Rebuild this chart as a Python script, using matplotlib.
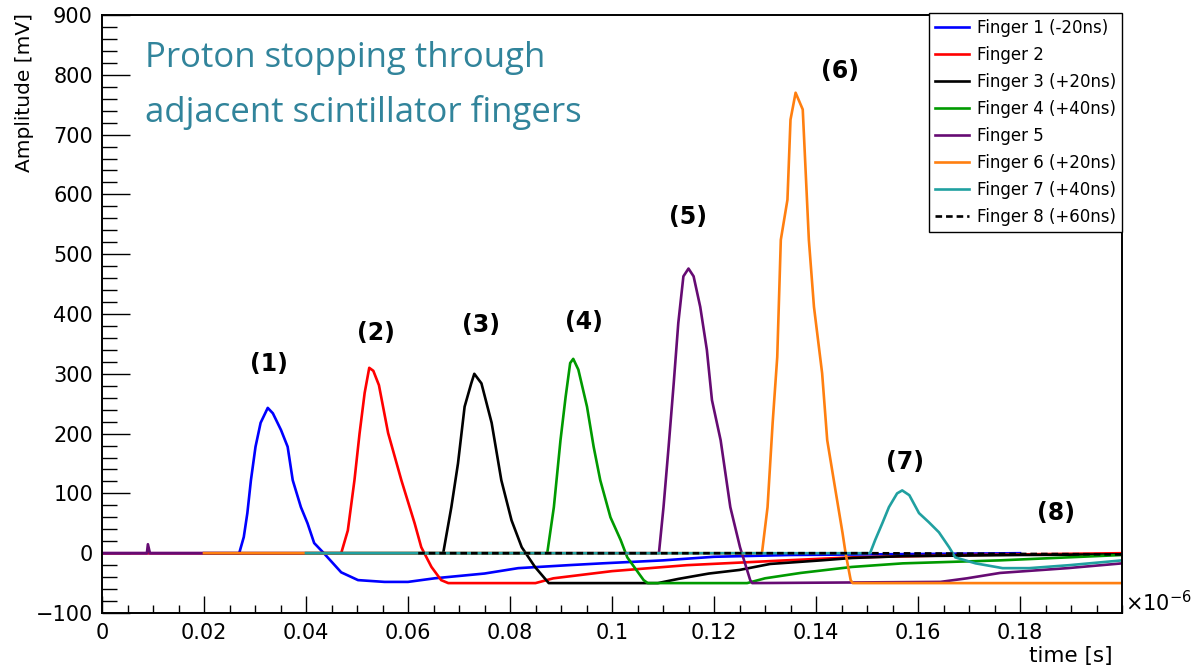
"""
Proton stopping through adjacent scintillator fingers - waveform overlay
"""
import matplotlib
matplotlib.use('Agg')
import matplotlib.pyplot as plt
from matplotlib.ticker import MultipleLocator, FixedLocator
import numpy as np

# ---- data (time in ns, amplitude in mV) ----
t_f1 = [0, 26.9, 27.8, 28.5, 29.2, 30.1, 31.1, 32.5, 33.5, 35.1, 36.4, 37.4, 39.0, 40.3,
        41.6, 43.5, 46.9, 50.2, 55.4, 60, 65.2, 75, 81.6, 91.5, 98, 110, 120, 135, 150, 180]
a_f1 = [0, 0, 27, 67, 122, 178, 218, 243, 234, 206, 178, 122, 77, 50,
        17, 0, -32, -45, -48, -48, -42, -34, -25, -20, -17, -12, -6, -3, -2, 0]

t_f2 = [0, 46.9, 48.2, 49.5, 50.5, 51.5, 52.4, 53.2, 54.3, 56.1, 58.7, 61.3, 62.6, 64.6,
        66.5, 67.9, 85, 88.5, 100, 114.7, 134, 147, 170, 200]
a_f2 = [0, 0, 38, 122, 200, 268, 310, 305, 281, 201, 122, 50, 10, -23,
        -45, -50, -50, -42, -30, -20, -12, -7, -3, 0]

t_f3 = [20, 66.9, 68.5, 69.8, 71.1, 72.4, 73.0, 74.4, 76.4, 78.3, 80.3, 82.3, 84.9, 87.6,
        109, 113, 119, 125, 131, 141, 147, 157, 180, 200]
a_f3 = [0, 0, 77, 150, 245, 284, 300, 284, 218, 122, 55, 10, -23, -50,
        -50, -43, -34, -28, -18, -12, -8, -5, -3, -2]

t_f4 = [40, 87.3, 88.6, 89.9, 90.9, 91.8, 92.4, 93.4, 95.1, 96.4, 97.7, 99.7, 101.7, 103,
        106.2, 107, 126.5, 130, 137, 147, 157, 176, 200]
a_f4 = [0, 0, 77, 189, 261, 318, 325, 307, 245, 178, 122, 60, 22, -7,
        -45, -50, -50, -42, -33, -23, -17, -12, -3]

t_f5 = [0, 8.8, 9.0, 9.4, 109.2, 110.1, 111.1, 112.1, 113.0, 114.0, 115.0, 116.0, 117.3,
        118.6, 119.6, 121.3, 123.2, 125.1, 127.1, 127.5, 164.4, 169.6, 176.1, 189.3, 200]
a_f5 = [0, 0, 15, 0, 0, 77, 178, 284, 385, 463, 476, 463, 412,
        340, 256, 189, 77, 10, -45, -50, -48, -42, -33, -25, -17]

t_f6 = [20, 129.4, 130.5, 131.5, 132.4, 133.1, 134.4, 135.0, 136.0, 137.4, 138.6, 139.6,
        141.2, 142.2, 143.8, 145.2, 145.8, 146.8, 147.2, 200]
a_f6 = [0, 0, 77, 218, 328, 524, 591, 725, 770, 742, 524, 412,
        301, 189, 106, 34, 0, -45, -50, -50]

t_f7 = [40, 150.6, 151.6, 153, 154.3, 155.9, 156.9, 158.3, 160.2, 162.1, 164.1, 166.1,
        167.3, 171.3, 176.6, 181.8, 189.7, 200]
a_f7 = [0, 0, 22, 50, 77, 100, 105, 97, 67, 52, 35, 10,
        -7, -17, -25, -25, -20, -12]

t_f8 = [62, 150, 200]
a_f8 = [0, 0, -2]

labels = ['Finger 1 (-20ns)', 'Finger 2', 'Finger 3 (+20ns)', 'Finger 4 (+40ns)',
          'Finger 5', 'Finger 6 (+20ns)', 'Finger 7 (+40ns)', 'Finger 8 (+60ns)']
colors = ['#0000ff', '#ff0000', '#000000', '#009a00', '#660b73', '#ff7f10', '#20a0a0', '#000000']

peak_tags = ['(1)', '(2)', '(3)', '(4)', '(5)', '(6)', '(7)', '(8)']
tag_t = [32.7, 53.8, 74.4, 94.5, 114.9, 144.8, 157.4, 187.1]
tag_a = [317, 369, 382, 387, 563, 807, 152, 68]

traces = [(t_f1, a_f1), (t_f2, a_f2), (t_f3, a_f3), (t_f4, a_f4),
          (t_f5, a_f5), (t_f6, a_f6), (t_f7, a_f7), (t_f8, a_f8)]

plt.rcParams['font.family'] = ['DejaVu Sans']

fig = plt.figure(figsize=(11.91, 6.70), dpi=100)
ax = fig.add_axes([102 / 1191, 1 - 613 / 670, 1020 / 1191, 598 / 670])

for i, (t, a) in enumerate(traces):
    x = np.array(t) * 1e-3   # ns -> units of 1e-6 s
    ls = (0, (2.5, 1.5)) if i == 7 else '-'
    ax.plot(x, a, color=colors[i], lw=1.9, ls=ls, label=labels[i], zorder=2 + i)

for tag, tt, aa in zip(peak_tags, tag_t, tag_a):
    ax.text(tt * 1e-3, aa, tag, ha='center', va='center', fontsize=17, fontweight='bold')

ax.set_xlim(0, 0.2)
ax.set_ylim(-100, 900)

ax.xaxis.set_major_locator(FixedLocator([0, 0.02, 0.04, 0.06, 0.08, 0.1, 0.12, 0.14, 0.16, 0.18]))
ax.set_xticklabels(['0', '0.02', '0.04', '0.06', '0.08', '0.1', '0.12', '0.14', '0.16', '0.18'])
ax.xaxis.set_minor_locator(MultipleLocator(0.005))
yt = list(range(-100, 1000, 100))
ax.set_yticks(yt)
ax.set_yticklabels([('\u2212' + str(-v)) if v < 0 else str(v) for v in yt])
ax.yaxis.set_minor_locator(MultipleLocator(20))

ax.tick_params(axis='both', which='both', direction='in', width=1, labelsize=15,
               top=False, right=False)
ax.tick_params(axis='y', which='major', length=20, pad=6.5)
ax.tick_params(axis='y', which='minor', length=10.5)
ax.tick_params(axis='x', which='major', length=12, pad=7)
ax.tick_params(axis='x', which='minor', length=6)

for sp in ax.spines.values():
    sp.set_linewidth(1.4)
    sp.set_zorder(20)

leg = ax.legend(loc='upper right', bbox_to_anchor=(1.0, 1.0 + 2 / 598), fontsize=12,
                frameon=True, fancybox=False, edgecolor='black', framealpha=1,
                handlelength=2.0, handletextpad=0.5, labelspacing=0.54,
                borderpad=0.35, borderaxespad=0)
leg.get_frame().set_linewidth(1.0)
leg.set_zorder(30)

fig.text(25 / 1191, 1 - 13 / 670, 'Amplitude [mV]', rotation=90, ha='center', va='top',
         fontsize=14.5)
fig.text(1113 / 1191, 1 - 656 / 670, 'time [s]', ha='right', va='center', fontsize=15.5)
fig.text(1125 / 1191, 1 - 603 / 670, r'$\times10^{-6}$', ha='left', va='center', fontsize=15)

title_color = '#31849b'
fig.text(145 / 1191, 1 - 67 / 670, 'Proton stopping through', ha='left', va='baseline',
         fontsize=25, color=title_color, family='Open Sans')
fig.text(145 / 1191, 1 - 122 / 670, 'adjacent scintillator fingers', ha='left', va='baseline',
         fontsize=25, color=title_color, family='Open Sans')

fig.savefig('out.png', dpi=100)
